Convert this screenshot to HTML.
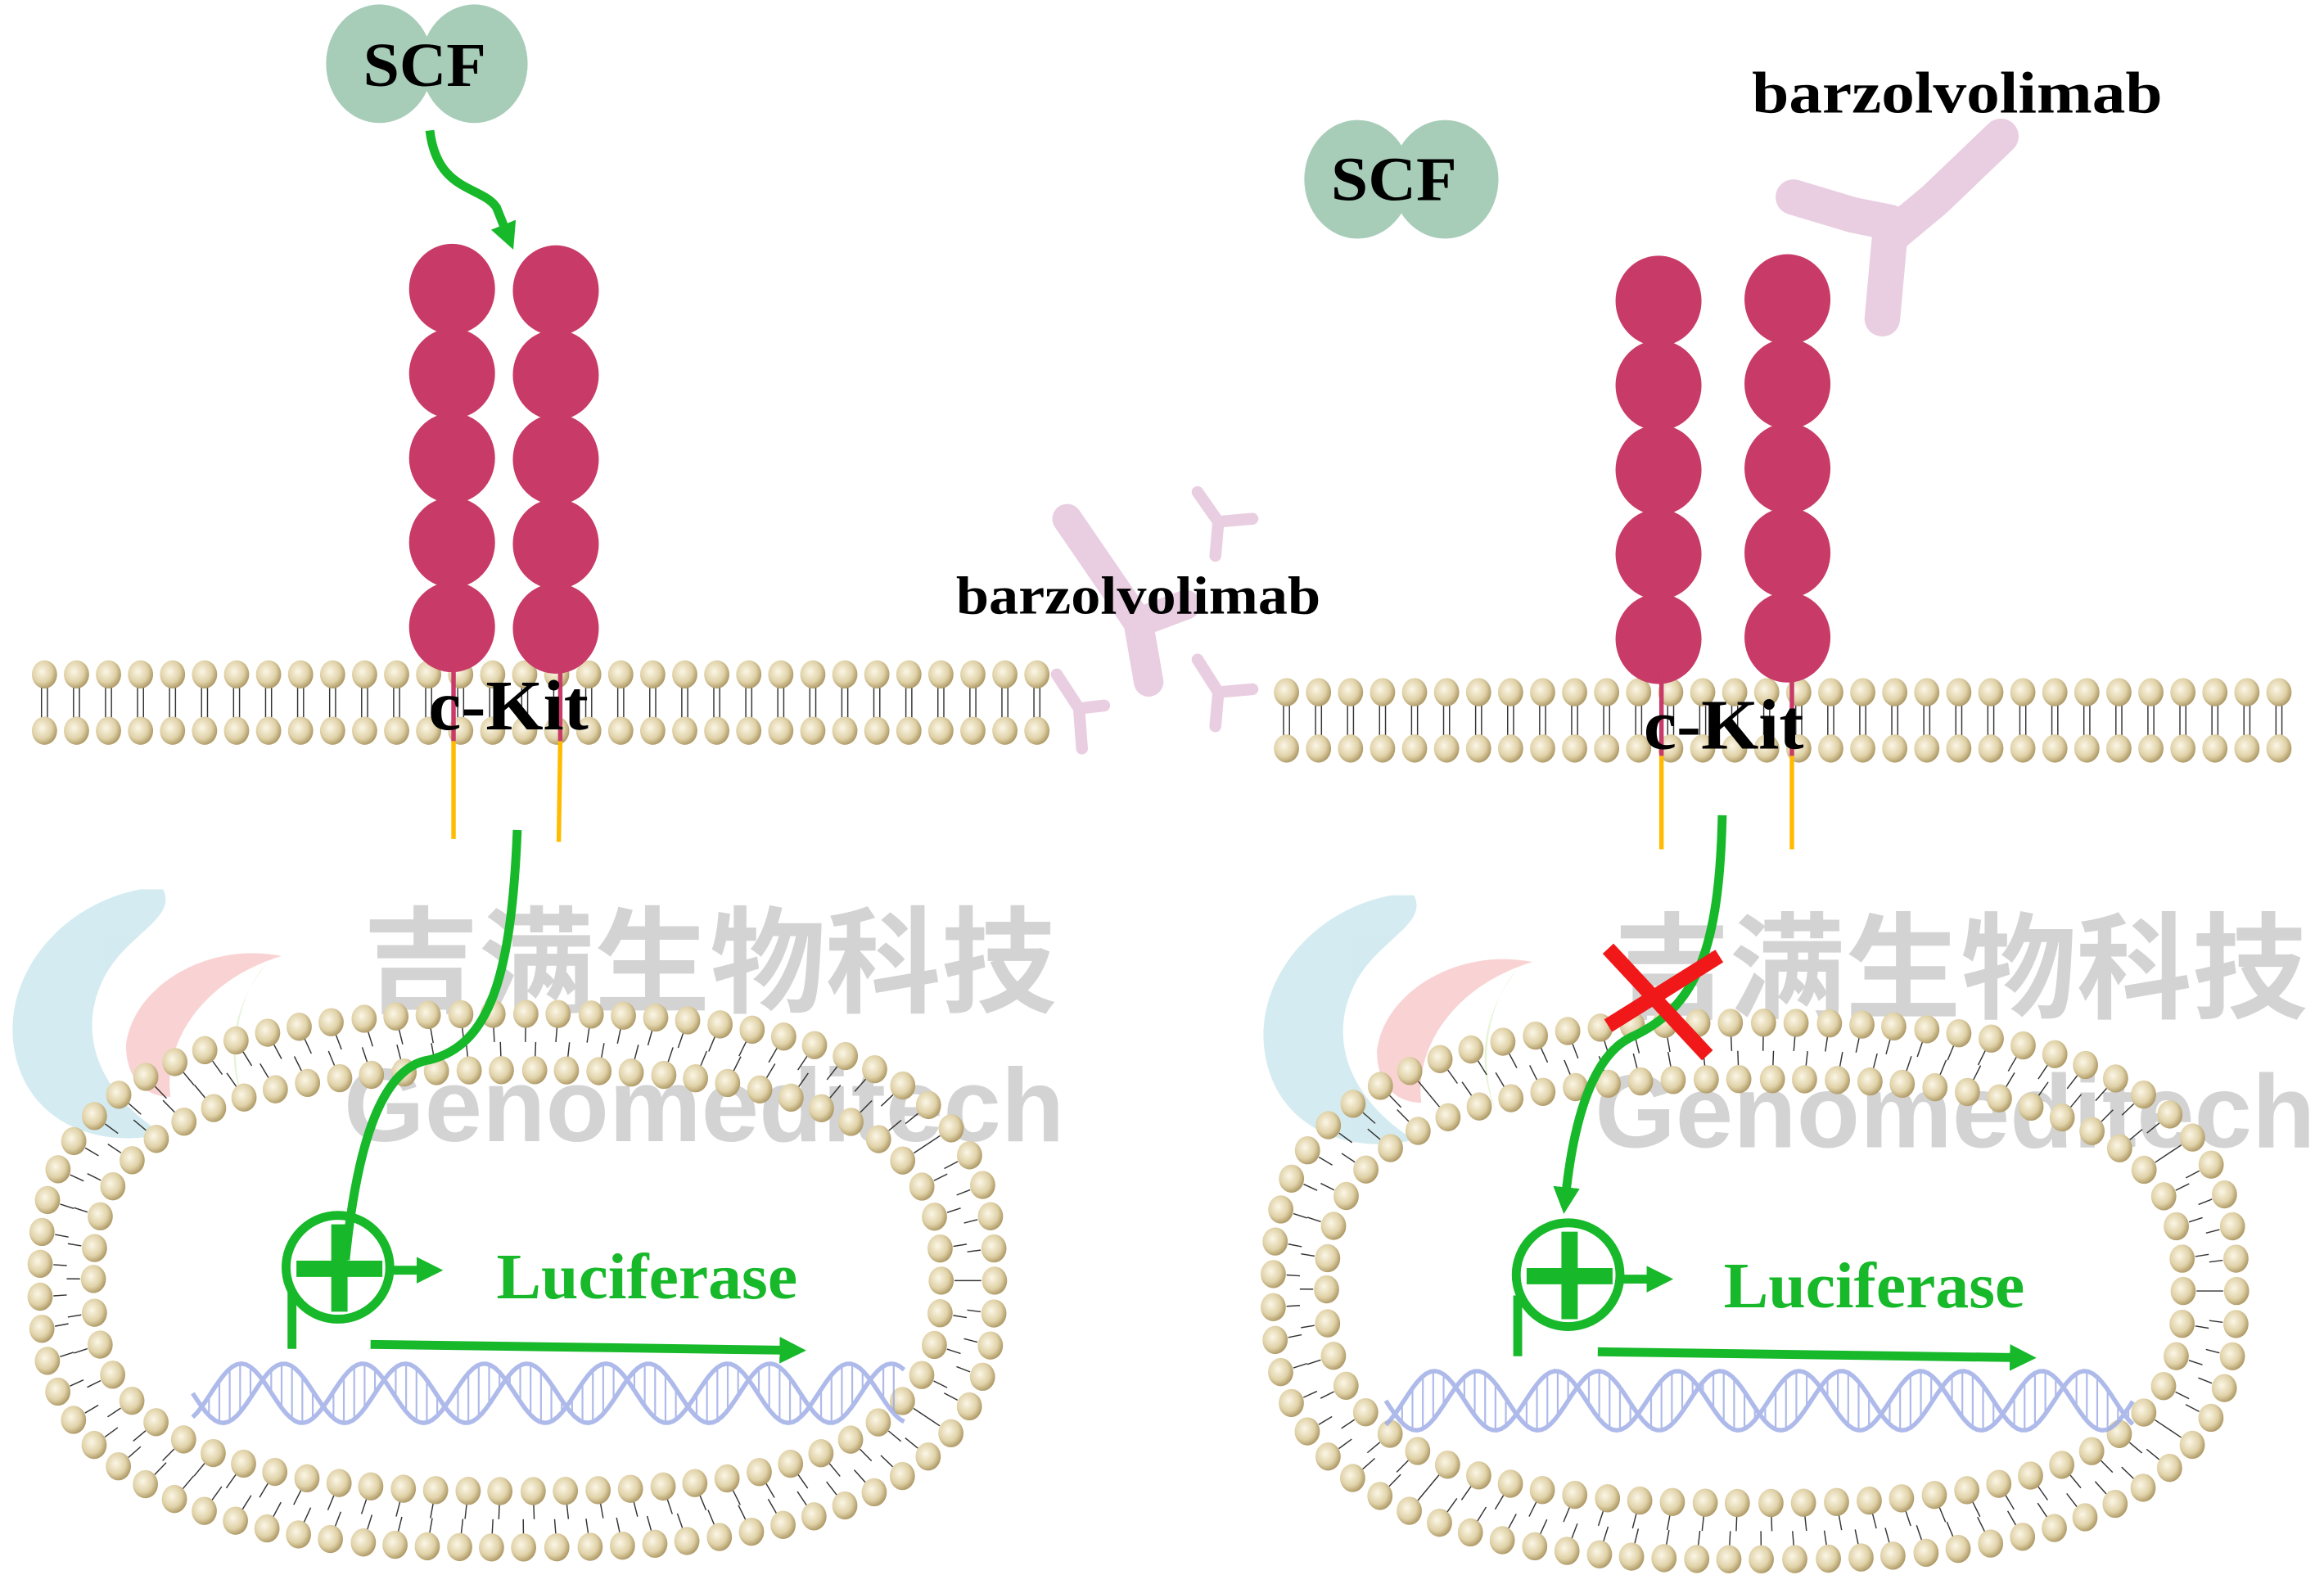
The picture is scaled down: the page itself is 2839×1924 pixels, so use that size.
<!DOCTYPE html>
<html><head><meta charset="utf-8"><style>
html,body{margin:0;padding:0;background:#fff;}
svg{display:block;}
.t{font-family:"Liberation Serif",serif;font-weight:bold;}
</style></head><body>
<svg id="s" width="2839" height="1924" viewBox="0 0 1568 1062.6" preserveAspectRatio="none" xmlns="http://www.w3.org/2000/svg">
<defs>
<radialGradient id="bead" cx="0.4" cy="0.4" r="0.65">
<stop offset="0" stop-color="#fbf6e6"/><stop offset="0.6" stop-color="#e0d2a8"/><stop offset="1" stop-color="#a8925e"/>
</radialGradient>
<marker id="ah" viewBox="0 0 10 10" refX="5" refY="5" markerWidth="3" markerHeight="3" orient="auto"><path d="M0,0L10,5L0,10z" fill="#17b82a"/></marker>
</defs>
<g opacity="0.45">
<path d="M95,600 C40,610 0,660 10,710 C20,760 70,775 110,765 C70,740 50,700 70,660 C85,630 120,620 110,600Z" fill="#9fd4e0"/>
<path d="M190,645 C140,635 90,665 85,705 C85,730 100,740 115,740 C110,700 140,660 190,645Z" fill="#f3a0a0"/>
<path d="M180,650 C160,670 150,720 170,755 C150,720 155,680 180,650Z" fill="#c6e5a8"/>
<text x="245" y="677" font-family="'Noto Sans CJK SC',sans-serif" font-weight="bold" font-size="78" fill="#a0a0a0">吉满生物科技</text>
<text x="232" y="770" font-family="'Liberation Sans',sans-serif" font-weight="bold" font-size="70" fill="#a0a0a0">Genomeditech</text>
</g>
<g opacity="0.45" transform="translate(844,4)">
<path d="M95,600 C40,610 0,660 10,710 C20,760 70,775 110,765 C70,740 50,700 70,660 C85,630 120,620 110,600Z" fill="#9fd4e0"/>
<path d="M190,645 C140,635 90,665 85,705 C85,730 100,740 115,740 C110,700 140,660 190,645Z" fill="#f3a0a0"/>
<path d="M180,650 C160,670 150,720 170,755 C150,720 155,680 180,650Z" fill="#c6e5a8"/>
<text x="245" y="677" font-family="'Noto Sans CJK SC',sans-serif" font-weight="bold" font-size="78" fill="#a0a0a0">吉满生物科技</text>
<text x="232" y="770" font-family="'Liberation Sans',sans-serif" font-weight="bold" font-size="70" fill="#a0a0a0">Genomeditech</text>
</g>
<g id="beads"></g>
<g fill="none" stroke="#e5c6dc" stroke-linecap="round" stroke-opacity="0.85">
<path d="M720,350 L768,420 M768,420 L800,408 M768,420 L775,460" stroke-width="20"/>
<path d="M808,332 L822,352 L845,350 M822,352 L820,375" stroke-width="8"/>
<path d="M808,445 L822,467 L845,465 M822,467 L820,490" stroke-width="8"/>
<path d="M713,455 L728,478 L745,476 M728,478 L730,505" stroke-width="8"/>
<path d="M1210,133 L1250,145 L1275,150 M1350,92 L1305,135 L1275,160 L1270,215" stroke-width="24"/>
</g>
<g fill="#a7cdb9">
<ellipse cx="256" cy="43" rx="36" ry="40"/><ellipse cx="320" cy="43" rx="36" ry="40"/>
<ellipse cx="916" cy="121" rx="36" ry="40"/><ellipse cx="975" cy="121" rx="36" ry="40"/>
</g>
<text class="t" x="245" y="58" font-size="42" textLength="83" lengthAdjust="spacingAndGlyphs">SCF</text>
<text class="t" x="898" y="135" font-size="42" textLength="85" lengthAdjust="spacingAndGlyphs">SCF</text>
<text class="t" x="645" y="414" font-size="36" textLength="246" lengthAdjust="spacingAndGlyphs">barzolvolimab</text>
<text class="t" x="1182" y="76" font-size="40" textLength="277" lengthAdjust="spacingAndGlyphs">barzolvolimab</text>
<g id="rec" fill="#c83a67"></g>
<g stroke-width="3">
<line x1="306" y1="440" x2="306" y2="500" stroke="#c83a67"/><line x1="306" y1="500" x2="306" y2="566" stroke="#ffbb00"/>
<line x1="378" y1="440" x2="378" y2="500" stroke="#c83a67"/><line x1="378" y1="500" x2="377" y2="568" stroke="#ffbb00"/>
<line x1="1121" y1="450" x2="1121" y2="510" stroke="#c83a67"/><line x1="1121" y1="510" x2="1121" y2="573" stroke="#ffbb00"/>
<line x1="1209" y1="450" x2="1209" y2="510" stroke="#c83a67"/><line x1="1209" y1="510" x2="1209" y2="573" stroke="#ffbb00"/>
</g>
<text class="t" x="289" y="492" font-size="48" textLength="108" lengthAdjust="spacingAndGlyphs">c-Kit</text>
<text class="t" x="1109" y="505" font-size="48" textLength="108" lengthAdjust="spacingAndGlyphs">c-Kit</text>
<g id="dna" fill="none" stroke="#9aa9e6" stroke-width="3" opacity="0.8"></g>
<g fill="none" stroke="#17b82a" stroke-width="6">
<path d="M290,88 C295,130 325,125 335,140 L343,160" marker-end="url(#ah)"/>
<path d="M349,560 C345,660 330,705 290,715 C255,720 240,780 233,850"/>
<circle cx="228" cy="855" r="35"/>
<path d="M197,870 L197,910"/>
<path d="M263,857 L290,857" marker-end="url(#ah)"/>
<path d="M250,907 L535,911" marker-end="url(#ah)"/>
<path d="M1162,550 C1160,640 1145,680 1100,700 C1070,715 1060,770 1056,810" marker-end="url(#ah)"/>
<circle cx="1058" cy="860" r="35"/>
<path d="M1024,874 L1024,915"/>
<path d="M1093,863 L1120,863" marker-end="url(#ah)"/>
<path d="M1078,912 L1365,916" marker-end="url(#ah)"/>
</g>
<g stroke="#17b82a" stroke-width="11">
<line x1="200" y1="856" x2="258" y2="856"/><line x1="229" y1="826" x2="229" y2="885"/>
<line x1="1030" y1="861" x2="1088" y2="861"/><line x1="1059" y1="831" x2="1059" y2="890"/>
</g>
<g stroke="#f01818" stroke-width="10"><line x1="1085" y1="640" x2="1152" y2="712"/><line x1="1160" y1="645" x2="1085" y2="692"/></g>
<text class="t" x="335" y="876" font-size="44" fill="#17b82a" textLength="203" lengthAdjust="spacingAndGlyphs">Luciferase</text>
<text class="t" x="1163" y="882" font-size="44" fill="#17b82a" textLength="203" lengthAdjust="spacingAndGlyphs">Luciferase</text>
</svg>
<script>
var NS="http://www.w3.org/2000/svg",B=document.getElementById('beads');
function el(t,a,p){var e=document.createElementNS(NS,t);for(var k in a)e.setAttribute(k,a[k]);(p||B).appendChild(e);return e;}
function bead(x,y){el('ellipse',{cx:x,cy:y,rx:8.5,ry:9.5,fill:'url(#bead)'});}
function row(x0,x1,y1,y2){for(var x=x0;x<=x1;x+=21.6){el('line',{x1:x-2,y1:y1+8,x2:x-2,y2:y2-8,stroke:'#333','stroke-width':0.8});el('line',{x1:x+2,y1:y1+8,x2:x+2,y2:y2-8,stroke:'#333','stroke-width':0.8});bead(x,y1);bead(x,y2);}}
row(30,702,455,493);row(868,1540,467,505);
function sp(v){return Math.sign(v)*Math.pow(Math.abs(v),0.75);}
function ring(cx,cy,rx,ry,step,cb){var N=4000,pts=[],L=[0];for(var i=0;i<=N;i++){var t=i/N*2*Math.PI;pts.push([cx+rx*sp(Math.cos(t)),cy+ry*sp(Math.sin(t)),t]);if(i)L.push(L[i-1]+Math.hypot(pts[i][0]-pts[i-1][0],pts[i][1]-pts[i-1][1]));}
var tot=L[N],n=Math.round(tot/step),j=0;for(var k=0;k<n;k++){var d=k*tot/n;while(L[j]<d)j++;cb(pts[j]);}}
function ves(cx,cy,rxo,ryo,rxi,ryi){
ring(cx,cy,rxo,ryo,22,function(p){var t=p[2];var ix=cx+rxi*sp(Math.cos(t)),iy=cy+ryi*sp(Math.sin(t));
var dx=ix-p[0],dy=iy-p[1],l=Math.hypot(dx,dy);dx/=l;dy/=l;
el('line',{x1:p[0]+dx*9,y1:p[1]+dy*9,x2:p[0]+dx*(l/2),y2:p[1]+dy*(l/2),stroke:'#333','stroke-width':0.8});bead(p[0],p[1]);});
ring(cx,cy,rxi,ryi,22,function(p){var t=p[2];var ox=cx+rxo*sp(Math.cos(t)),oy=cy+ryo*sp(Math.sin(t));
var dx=ox-p[0],dy=oy-p[1],l=Math.hypot(dx,dy);dx/=l;dy/=l;
el('line',{x1:p[0]+dx*9,y1:p[1]+dy*9,x2:p[0]+dx*(l/2),y2:p[1]+dy*(l/2),stroke:'#333','stroke-width':0.8});bead(p[0],p[1]);});}
ves(349,864,322,180,286,142);ves(1184,871,325,181,289,143);
var R=document.getElementById('rec');
[[305,195],[375,196],[1119,203],[1206,202]].forEach(function(p){for(var i=0;i<5;i++)el('ellipse',{cx:p[0],cy:p[1]+i*57,rx:29,ry:30.5},R);});
var D=document.getElementById('dna');
function dna(x0,x1,y){var d1='',d2='',w=x1-x0,P=82,A=20;for(var x=0;x<=w;x+=3){var a=y+A*Math.sin(x/P*2*Math.PI),b=y+A*Math.sin(x/P*2*Math.PI+2.2);d1+=(x?'L':'M')+(x0+x)+','+a;d2+=(x?'L':'M')+(x0+x)+','+b;}
el('path',{d:d1},D);el('path',{d:d2},D);for(var x=4;x<w;x+=7){var a=y+A*Math.sin(x/P*2*Math.PI),b=y+A*Math.sin(x/P*2*Math.PI+2.2);if(Math.abs(a-b)>6)el('line',{x1:x0+x,y1:a,x2:x0+x,y2:b,'stroke-width':1.2},D);}}
dna(130,610,940);dna(935,1440,945);
</script>
</body></html>
